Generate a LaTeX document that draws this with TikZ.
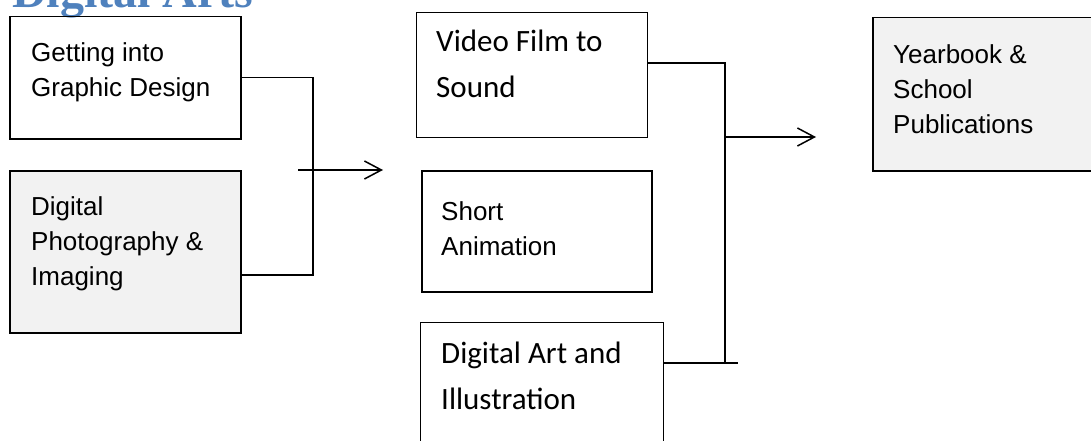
\documentclass[tikz,border=0pt]{standalone}
\usepackage{fontspec}
\setmainfont{Liberation Sans}
\newfontfamily\calibrifont{Carlito}
\newfontfamily\headfont{Liberation Serif}
\usepackage{xcolor}
\usepackage{tikz}
\usetikzlibrary{positioning, arrows.meta}
\definecolor{headblue}{HTML}{4F81BD}
\definecolor{boxgray}{HTML}{F2F2F2}

\begin{document}
\begin{tikzpicture}[x=1pt, y=-1pt,
        course/.style={draw, line width=1.5pt, inner sep=0pt, anchor=north west},
        thincourse/.style={course, line width=1.1pt},
        arialtext/.style={font=\fontsize{26}{35}\selectfont, align=left, anchor=base west, inner sep=0pt},
        calibritext/.style={font=\calibrifont\fontsize{31}{46}\selectfont, align=left, anchor=base west, inner sep=0pt},
        link/.style={line width=1.5pt},
        flow/.style={link, -{Straight Barb[length=17pt, width=18pt, line width=1.5pt]}}]

            % Fix the page and cut what runs off it
            \path[use as bounding box, clip] (0,0) rectangle (1091,441);

            % Draw the heading
            \node[font=\headfont\bfseries\fontsize{48}{48}\selectfont, text=headblue,
                  anchor=base west, inner sep=0pt] (title) at (12,8) {Digital Arts};

            % Draw the first column of courses (texts sit on their last line)
            \node[course, minimum width=231pt, minimum height=122pt] (graphic) at (9,16) {};
            \node[arialtext] (graphictext) at ([shift={(22,80)}]graphic.north west) {Getting into\\Graphic Design};
            \node[course, fill=boxgray, minimum width=231pt, minimum height=162pt] (photo) at (9,170) {};
            \node[arialtext] (phototext) at ([shift={(22,115)}]photo.north west) {Digital\\Photography \&\\Imaging};

            % Draw the second column of courses
            \node[thincourse, minimum width=231pt, minimum height=125pt] (video) at (416,12) {};
            \node[calibritext] (videotext) at ([shift={(20,86)}]video.north west) {Video Film to\\Sound};
            \node[course, minimum width=230pt, minimum height=121pt] (animation) at (421,170) {};
            \node[arialtext] (animationtext) at ([shift={(20,85)}]animation.north west) {Short\\Animation};
            \node[thincourse, minimum width=243pt, minimum height=140pt] (illustration) at (420,322) {};
            \node[calibritext] (illustrationtext) at ([shift={(21,87)}]illustration.north west) {Digital Art and\\Illustration};

            % Draw the last course
            \node[course, fill=boxgray, minimum width=230pt, minimum height=153pt] (yearbook) at (872,17) {};
            \node[arialtext] (yearbooktext) at ([shift={(21,116)}]yearbook.north west) {Yearbook \&\\School\\Publications};

            % Join the first column
            \coordinate (leftjoin) at (313,275);
            \draw[link] (graphic.east) -| (leftjoin) -- (leftjoin -| photo.east);
            \coordinate (leftstart) at (298,170);
            \coordinate (leftend) at (383,170);
            \draw[flow] (leftstart) -- (leftend);

            % Join the second column
            \coordinate (rightjoin) at (725,63);
            \coordinate (rightfoot) at (738,363);
            \draw[link] (video.east |- rightjoin) -- (rightjoin) -- (rightjoin |- rightfoot);
            \draw[link] (illustration.east |- rightfoot) -- (rightfoot);
            \coordinate (rightstart) at (725,137);
            \coordinate (rightend) at (816,137);
            \draw[flow] (rightstart) -- (rightend);
        \end{tikzpicture}
\end{document}
